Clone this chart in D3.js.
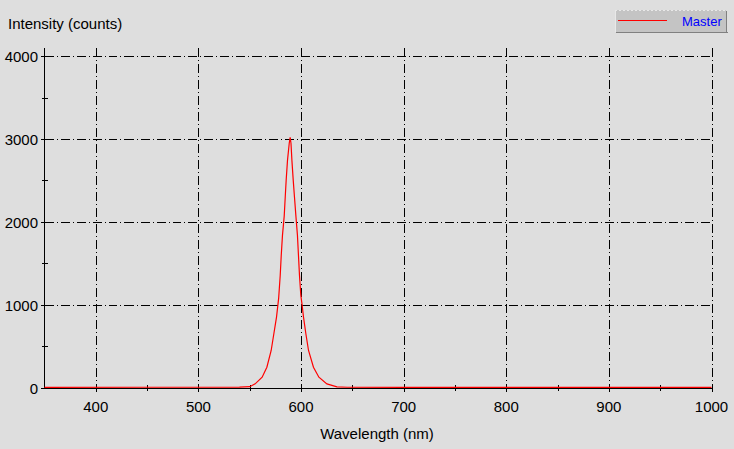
<!DOCTYPE html>
<html><head><meta charset="utf-8">
<script src="https://cdn.jsdelivr.net/npm/d3@7"></script>
<style>
html,body{margin:0;padding:0;background:#dedede;}
svg{display:block;}
text{font-family:"Liberation Sans",Arial,sans-serif;}
</style></head>
<body>
<svg id="c" width="734" height="449"></svg>
<script>
// Data
const wavelengths = [350, 450, 540, 550, 555.3, 562.1, 566.7, 570.9, 573.5, 576.1, 578.2, 579.7, 580.7, 581.9, 583.6, 584.6, 585.5, 586.8, 588.5, 589.4, 590.2, 591.1, 592.4, 593.6, 595.0, 596.5, 597.5, 598.5, 599.8, 601.0, 602.4, 604.7, 607.3, 612.1, 617.4, 625.2, 635.0, 645, 700, 800, 900, 1000];
const intensities = [2, 3, 4, 10, 44, 124, 245, 447, 649, 850, 1080, 1353, 1595, 1837, 2070, 2300, 2501, 2743, 2950, 3020, 2950, 2743, 2501, 2300, 2070, 1837, 1595, 1353, 1112, 1000, 850, 649, 447, 245, 124, 44, 8, 3, 2, 2, 2, 2];
const xTicks = [400, 500, 600, 700, 800, 900, 1000];
const xMinorTicks = [450, 550, 650, 750, 850, 950];
const yTicks = [0, 1000, 2000, 3000, 4000];
const yMinorTicks = [500, 1500, 2500, 3500];
const seriesName = "Master";
const xTitle = "Wavelength (nm)";
const yTitle = "Intensity (counts)";

const svg = d3.select("#c");
const x = d3.scaleLinear().domain([350, 1000]).range([44.5, 711.5]);
const y = d3.scaleLinear().domain([0, 4100]).range([387.5, 48]);

const grid = svg.append("g").attr("stroke", "#000").attr("stroke-width", 1)
  .attr("stroke-dasharray", "9,3,1,3").attr("shape-rendering", "crispEdges");
grid.selectAll("line.h").data(yTicks.filter(d => d > 0)).join("line")
  .attr("x1", x(350)).attr("x2", x(1000)).attr("y1", d => Math.round(y(d)) + 0.5).attr("y2", d => Math.round(y(d)) + 0.5);
grid.selectAll("line.v").data(xTicks).join("line")
  .attr("x1", d => Math.round(x(d)) + 0.5).attr("x2", d => Math.round(x(d)) + 0.5).attr("y1", y(4100)).attr("y2", y(0));

// axes lines
const ax = svg.append("g").attr("stroke", "#000").attr("stroke-width", 1).attr("shape-rendering", "crispEdges");
ax.append("line").attr("x1", x(350)).attr("x2", x(350)).attr("y1", y(4100)).attr("y2", y(0));
ax.append("line").attr("x1", x(350)).attr("x2", x(1000)).attr("y1", Math.round(y(0)) + 0.5).attr("y2", Math.round(y(0)) + 0.5);
// ticks
ax.selectAll("line.yt").data(yTicks).join("line")
  .attr("x1", x(350) - 4).attr("x2", x(350) + 4).attr("y1", d => Math.round(y(d)) + 0.5).attr("y2", d => Math.round(y(d)) + 0.5);
ax.selectAll("line.ym").data(yMinorTicks).join("line")
  .attr("x1", x(350) - 3).attr("x2", x(350) + 3).attr("y1", d => Math.round(y(d)) + 0.5).attr("y2", d => Math.round(y(d)) + 0.5);
ax.selectAll("line.xt").data(xTicks).join("line")
  .attr("x1", d => Math.round(x(d)) + 0.5).attr("x2", d => Math.round(x(d)) + 0.5).attr("y1", y(0) - 4).attr("y2", y(0) + 4);
ax.selectAll("line.xm").data(xMinorTicks).join("line")
  .attr("x1", d => Math.round(x(d)) + 0.5).attr("x2", d => Math.round(x(d)) + 0.5).attr("y1", y(0) - 3).attr("y2", y(0) + 3);

// tick labels
svg.append("g").selectAll("text").data(yTicks).join("text")
  .attr("x", 38).attr("y", d => y(d) + 6).attr("text-anchor", "end")
  .attr("font-size", 15).attr("fill", "#000").text(d => d);
svg.append("g").selectAll("text").data(xTicks).join("text")
  .attr("x", d => x(d)).attr("y", 412).attr("text-anchor", "middle")
  .attr("font-size", 15).attr("fill", "#000").text(d => d);

// titles
svg.append("text").attr("x", 8).attr("y", 29).attr("font-size", 15).attr("fill", "#000").text(yTitle);
svg.append("text").attr("x", 377).attr("y", 439).attr("text-anchor", "middle").attr("font-size", 15).attr("fill", "#000").text(xTitle);

// series line
const pts = wavelengths.map((w, i) => [w, intensities[i]]);
svg.append("path").datum(pts)
  .attr("fill", "none").attr("stroke", "#ff0000").attr("stroke-width", 1.2)
  .attr("d", d3.line().x(d => x(d[0])).y(d => y(d[1])));

// legend
const lg = svg.append("g").attr("shape-rendering", "crispEdges");
lg.append("rect").attr("x", 615).attr("y", 10).attr("width", 111).attr("height", 22).attr("fill", "#c4c4c4");
lg.append("line").attr("x1", 615).attr("x2", 726).attr("y1", 10.5).attr("y2", 10.5).attr("stroke", "#e8e8e8").attr("stroke-dasharray", "2,2");
lg.append("line").attr("x1", 615.5).attr("x2", 615.5).attr("y1", 10).attr("y2", 32).attr("stroke", "#e8e8e8");
lg.append("line").attr("x1", 616).attr("x2", 728).attr("y1", 32.5).attr("y2", 32.5).attr("stroke", "#808080").attr("stroke-width", 1);
lg.append("line").attr("x1", 726.5).attr("x2", 726.5).attr("y1", 11).attr("y2", 33).attr("stroke", "#808080");
lg.append("line").attr("x1", 618).attr("x2", 667).attr("y1", 20.5).attr("y2", 20.5).attr("stroke", "#ff0000");
svg.append("text").attr("x", 682).attr("y", 26).attr("font-size", 13).attr("fill", "#0000ff").text(seriesName);
</script>
</body></html>
